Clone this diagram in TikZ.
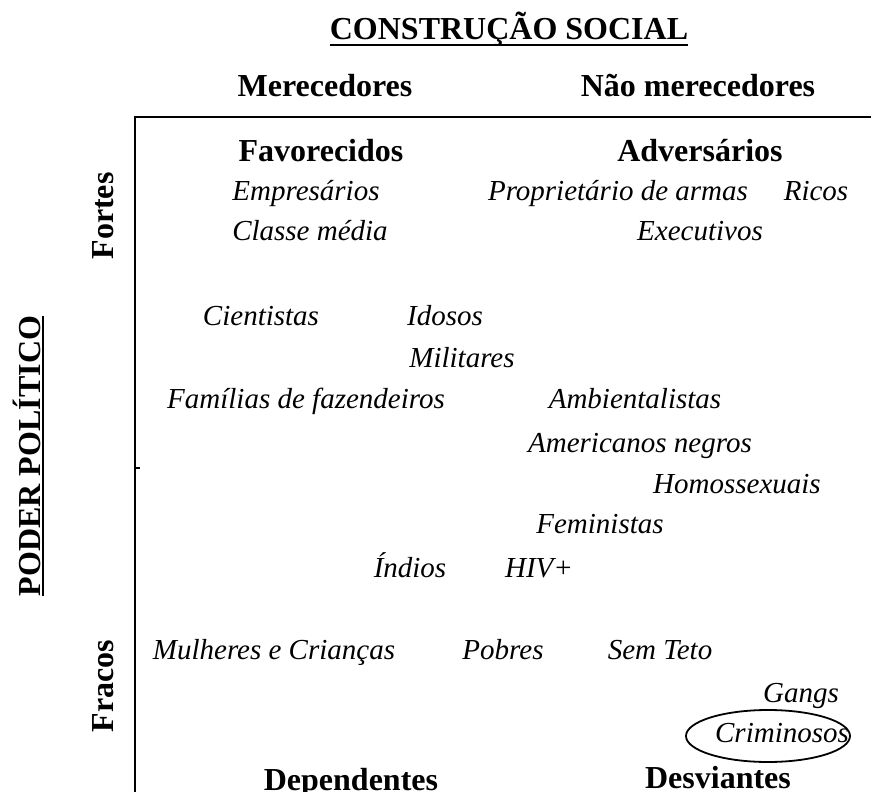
\documentclass[tikz,border=0pt]{standalone}
\usepackage{fontspec}
\setmainfont{Liberation Serif}
\usepackage{tikz}

\begin{document}
\begin{tikzpicture}[x=1pt, y=-1pt,
	head/.style = {font=\fontsize{32}{38}\selectfont\bfseries,
		anchor=base, inner sep=0pt},
	item/.style = {font=\fontsize{29}{35}\selectfont\itshape,
		anchor=base, inner sep=0pt},
	axis/.style = {line width=2.5pt},
	uline/.style = {line width=2pt},
	ring/.style = {line width=1.8pt}]
	\useasboundingbox (0,0) rectangle (871,792);

	% axes
	\coordinate (corner) at (135,117);
	\coordinate (xend) at (871,117);
	\coordinate (yend) at (135,792);
	\coordinate (nick) at (139.5,468);
	\draw[axis] (xend) -- (corner) -- (yend);
	\draw[line width=2pt] (nick) -- (nick -| corner);

	% column heads
	\node[head] (title) at (509,40) {CONSTRUÇÃO SOCIAL};
	\draw[uline] ([yshift=-5pt]title.base west) -- ([yshift=-5pt]title.base east);
	\node[head] (mer) at (325,97) {Merecedores};
	\node[head] (naomer) at (698,97) {Não merecedores};

	% row heads
	\node[head, rotate=90] (poder) at (40,456) {PODER POLÍTICO};
	\draw[uline] ([xshift=3pt]poder.base west) -- ([xshift=3pt]poder.base east);
	\node[head, rotate=90] (fortes) at (113,216) {Fortes};
	\node[head, rotate=90] (fracos) at (113,686) {Fracos};

	% quadrants
	\node[head] (favor) at (321,161) {Favorecidos};
	\node[head] (advers) at (700,161) {Adversários};
	\node[head] (depend) at (351,790) {Dependentes};
	\node[head] (desv) at (718,788) {Desviantes};

	% groups
	\node[item] (empres) at (306,200) {Empresários};
	\node[item] (propr) at (618,200) {Proprietário de armas};
	\node[item] (ricos) at (816,200) {Ricos};
	\node[item] (classe) at (310,240) {Classe média};
	\node[item] (exec) at (700,240) {Executivos};
	\node[item] (cient) at (261,325) {Cientistas};
	\node[item] (idosos) at (445,325) {Idosos};
	\node[item] (milit) at (462,367) {Militares};
	\node[item] (famil) at (306,408) {Famílias de fazendeiros};
	\node[item] (ambient) at (635,408) {Ambientalistas};
	\node[item] (amer) at (640,452) {Americanos negros};
	\node[item] (homo) at (737,493) {Homossexuais};
	\node[item] (femin) at (600,533) {Feministas};
	\node[item] (indios) at (410,577) {Índios};
	\node[item] (hiv) at (539,577) {HIV+};
	\node[item] (mulh) at (274,659) {Mulheres e Crianças};
	\node[item] (pobres) at (503,659) {Pobres};
	\node[item] (semteto) at (660,659) {Sem Teto};
	\node[item] (gangs) at (801,702) {Gangs};
	\node[item] (crim) at (782,742) {Criminosos};
	\draw[ring] ([xshift=-14pt, yshift=6pt]crim.base) ellipse [x radius=82pt, y radius=26pt];

\end{tikzpicture}
\end{document}
